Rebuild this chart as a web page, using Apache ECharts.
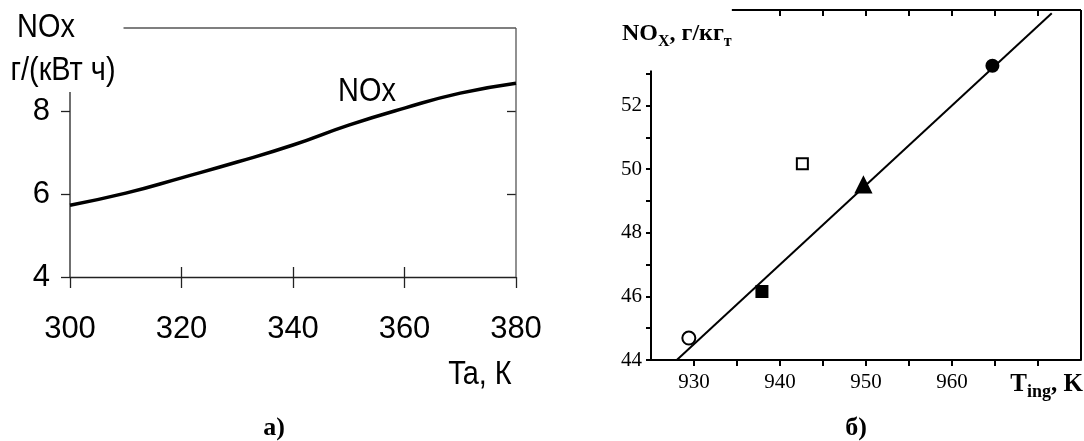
<!DOCTYPE html>
<html><head><meta charset="utf-8">
<script src="https://cdn.jsdelivr.net/npm/echarts@6/dist/echarts.min.js"></script>
<style>html,body{margin:0;padding:0;background:#fff}#c{width:1084px;height:441px}</style>
</head><body><div id="c"></div>
<script>
// ---- data: chart a) ----
const taK = [300, 310, 320, 330, 340, 350, 360, 370, 380];
const noxA = [5.73, 6.02, 6.39, 6.77, 7.18, 7.66, 8.07, 8.43, 8.67];
const aXTicks = [300, 320, 340, 360, 380];
const aYTicks = [4, 6, 8];
// ---- data: chart б) ----
const tIng = [929.4, 937.9, 942.6, 949.7, 964.7];
const noxB = [44.69, 46.15, 50.17, 49.5, 53.25];
const fitT = [928, 971.6];
const fitNox = [44, 54.9];
const bXTicks = [930, 940, 950, 960];
const bYTicks = [44, 46, 48, 50, 52];

const SANS = "'Liberation Sans',Arial,sans-serif";
const SERIF = "'Liberation Serif','Times New Roman',serif";

const markerStyles = [
  {symbol: 'circle', size: 13, fill: '#fff'},
  {symbol: 'rect', size: 11, fill: '#000'},
  {symbol: 'rect', size: 11, fill: '#fff'},
  {symbol: 'triangle', size: 15, fill: '#000'},
  {symbol: 'circle', size: 12, fill: '#000'}
];

const chart = echarts.init(document.getElementById('c'), null, {renderer: 'canvas'});

function frameLine(pts, xi, yi, color, w) {
  return {type: 'line', xAxisIndex: xi, yAxisIndex: yi, data: pts, symbol: 'none', clip: false,
    silent: true, lineStyle: {color: color, width: w}, z: 1};
}

const series = [];
series.push({type: 'line', xAxisIndex: 0, yAxisIndex: 0, smooth: true, symbol: 'none',
  data: taK.map((t, i) => [t, noxA[i]]), lineStyle: {color: '#000', width: 3.5}, z: 5});
series.push(frameLine([[300, 4], [300, 8.46]], 0, 0, '#222', 1.3));
series.push(frameLine([[309.6, 10], [380, 10]], 0, 0, '#555', 1.3));
series.push(frameLine([[380, 4], [380, 10]], 0, 0, '#555', 1.3));
series.push({type: 'line', xAxisIndex: 2, yAxisIndex: 2, symbol: 'none',
  data: fitT.map((t, i) => [t, fitNox[i]]), lineStyle: {color: '#000', width: 2}, z: 4});
series.push(frameLine([[925, 44], [925, 53.1]], 2, 2, '#000', 2));
series.push(frameLine([[934.4, 55], [975, 55]], 2, 2, '#000', 2));
series.push(frameLine([[975, 44], [975, 55]], 2, 2, '#000', 2));
tIng.forEach((t, i) => {
  const m = markerStyles[i];
  series.push({type: 'scatter', xAxisIndex: 2, yAxisIndex: 2, data: [[t, noxB[i]]],
    symbol: m.symbol, symbolSize: m.size, z: 6,
    itemStyle: {color: m.fill, borderColor: '#000', borderWidth: 2, opacity: 1}});
});

function sansText(str, x, y) {
  return {type: 'text', x: x, y: y, scaleX: 0.85,
    style: {text: str, font: '34px ' + SANS, fill: '#000', align: 'center', verticalAlign: 'middle'}};
}

const option = {
  backgroundColor: '#fff',
  animation: false,
  grid: [
    {left: 70, right: 568, top: 28, bottom: 164},
    {left: 651, right: 3, top: 10, bottom: 81}
  ],
  xAxis: [
    {type: 'value', gridIndex: 0, min: 300, max: 380, interval: 20, position: 'bottom',
      axisLine: {show: true, lineStyle: {color: '#222', width: 1.3}},
      axisTick: {show: true, inside: false, length: 11, lineStyle: {color: '#222', width: 1.3}},
      axisLabel: {show: true, customValues: aXTicks, margin: 37, color: '#000', fontSize: 31, fontFamily: SANS},
      splitLine: {show: false}},
    {type: 'value', gridIndex: 0, min: 300, max: 380, position: 'bottom',
      axisLine: {show: false},
      axisTick: {show: true, inside: true, length: 10, customValues: [320, 340, 360], lineStyle: {color: '#222', width: 1.3}},
      axisLabel: {show: false}, splitLine: {show: false}},
    {type: 'value', gridIndex: 1, min: 925, max: 975, interval: 5, position: 'bottom',
      axisLine: {show: true, lineStyle: {color: '#000', width: 2}},
      axisTick: {show: true, inside: false, length: 6, customValues: [930, 935, 940, 945, 950, 955, 960, 965, 970], lineStyle: {color: '#000', width: 2}},
      axisLabel: {show: true, customValues: bXTicks, margin: 12, color: '#000', fontSize: 21, fontFamily: SERIF},
      splitLine: {show: false}},
    {type: 'value', gridIndex: 1, min: 925, max: 975, position: 'top',
      axisLine: {show: false},
      axisTick: {show: true, inside: true, length: 6, customValues: [940, 945, 950, 955, 960, 965, 970], lineStyle: {color: '#000', width: 2}},
      axisLabel: {show: false}, splitLine: {show: false}}
  ],
  yAxis: [
    {type: 'value', gridIndex: 0, min: 4, max: 10, interval: 2,
      axisLine: {show: false},
      axisTick: {show: true, inside: false, length: 9, customValues: aYTicks, lineStyle: {color: '#222', width: 1.3}},
      axisLabel: {show: true, customValues: aYTicks, margin: 20, color: '#000', fontSize: 31, fontFamily: SANS},
      splitLine: {show: false}},
    {type: 'value', gridIndex: 0, min: 4, max: 10, interval: 2,
      axisLine: {show: false},
      axisTick: {show: true, inside: true, length: 9, customValues: [6, 8], lineStyle: {color: '#222', width: 1.3}},
      axisLabel: {show: false}, splitLine: {show: false}},
    {type: 'value', gridIndex: 1, min: 44, max: 55, interval: 1,
      axisLine: {show: false},
      axisTick: {show: true, inside: false, length: 5, customValues: [44, 45, 46, 47, 48, 49, 50, 51, 52, 53], lineStyle: {color: '#000', width: 2}},
      axisLabel: {show: true, customValues: bYTicks, margin: 9, color: '#000', fontSize: 21, fontFamily: SERIF},
      splitLine: {show: false}}
  ],
  graphic: [
    sansText('NOx', 46, 28),
    sansText('г/(кВт ч)', 63, 71),
    sansText('NOx', 367, 92),
    sansText('Ta, К', 480, 375),
    {type: 'text', x: 274, y: 428, style: {text: 'а)', font: 'bold 26px ' + SERIF, fill: '#000', align: 'center', verticalAlign: 'middle'}},
    {type: 'text', x: 856, y: 428, style: {text: 'б)', font: 'bold 26px ' + SERIF, fill: '#000', align: 'center', verticalAlign: 'middle'}},
    {type: 'text', x: 622, y: 34, style: {
      text: '{b|NO}{s|X}{b|, г/кг}{s|т}', align: 'left', verticalAlign: 'middle',
      rich: {
        b: {font: 'bold 24px ' + SERIF, fill: '#000', lineHeight: 32, verticalAlign: 'middle'},
        s: {font: 'bold 16px ' + SERIF, fill: '#000', lineHeight: 16, verticalAlign: 'bottom'}
      }}},
    {type: 'text', x: 1083, y: 385, style: {
      text: '{b|T}{s|ing}{b|, K}', align: 'right', verticalAlign: 'middle',
      rich: {
        b: {font: 'bold 25px ' + SERIF, fill: '#000', lineHeight: 32, verticalAlign: 'middle'},
        s: {font: 'bold 18px ' + SERIF, fill: '#000', lineHeight: 18, verticalAlign: 'bottom'}
      }}}
  ],
  series: series
};
chart.setOption(option);
</script>
</body></html>
